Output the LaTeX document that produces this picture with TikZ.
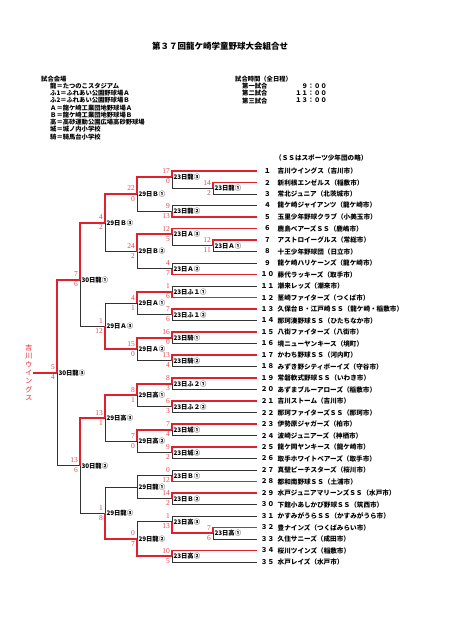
\documentclass[tikz,border=0pt]{standalone}
\usepackage{fontspec}
\setmainfont{Noto Sans CJK JP}
\newfontfamily\scorefont{Liberation Serif}
\usetikzlibrary{calc}
\definecolor{winRed}{RGB}{224,32,44}
\definecolor{scoreRed}{RGB}{226,72,78}
\pgfdeclarelayer{bg}
\pgfsetlayers{bg,main}
\tikzset{
  bline/.style={draw=black!80, line width=0.75pt},
  rline/.style={draw=winRed, line width=1.8pt},
  matchlab/.style={anchor=west, inner sep=0.3pt, xshift=1pt, font=\fontsize{6.3}{7}\selectfont\bfseries},
  score/.style={inner sep=0.4pt, text=scoreRed, font=\scorefont\fontsize{7.5}{8}\selectfont},
  teamnum/.style={inner sep=0pt, font=\fontsize{6.6}{7}\selectfont\bfseries},
  teamname/.style={anchor=west, inner sep=0pt, font=\fontsize{6.6}{7}\selectfont\bfseries},
  info/.style={anchor=west, inner sep=0pt, font=\fontsize{6.3}{7}\selectfont\bfseries},
  champtext/.style={anchor=east, inner sep=0.5pt, align=center, text=winRed, font=\fontsize{7}{8.3}\selectfont}
}
% one game: [vertex fraction] name, column x, upper entry, lower entry, label, scores, winner (t/b/n)
\newcommand{\match}[9][.5]{%
  \coordinate (#2-x) at (#3,0);
  \coordinate (#2-a) at (#4 -| #2-x);
  \coordinate (#2-b) at (#5 -| #2-x);
  \coordinate (#2) at ($(#2-a)!#1!(#2-b)$);
  \begin{pgfonlayer}{bg}
    \draw[bline] (#4) -- (#2-a) -- (#2-b) -- (#5);
  \end{pgfonlayer}
  \ifx t#9\draw[rline] (#4) -- (#2-a) -- (#2);\fi
  \ifx b#9\draw[rline] (#5) -- (#2-b) -- (#2);\fi
  \node[matchlab] (#2-lab) at (#2) {#6};
  \node[score, anchor=south east] (#2-s1) at ($(#2)+(-1.5,-2.5)$) {#7};
  \node[score, anchor=north east] (#2-s2) at ($(#2)+(-1.5,1.5)$) {#8};
}

\begin{document}
\begin{tikzpicture}[x=1pt, y=-1pt]
\begin{pgfonlayer}{bg}
  \fill[white] (0,0) rectangle (452,640);
\end{pgfonlayer}
\useasboundingbox (0,0) rectangle (452,640);

\node[font=\fontsize{8.5}{9}\selectfont\bfseries, inner sep=0pt] (title) at (220,46) {第３７回龍ケ崎学童野球大会組合せ};

% venues and times
\node[info] (venue) at (41,79) {試合会場};
\foreach \txt [count=\k] in {龍＝たつのこスタジアム, ふ1＝ふれあい公園野球場Ａ, ふ2＝ふれあい公園野球場Ｂ,
  Ａ＝龍ケ崎工業団地野球場Ａ, Ｂ＝龍ケ崎工業団地野球場Ｂ, 高＝高砂運動公園広場高砂野球場,
  城＝城ノ内小学校, 騎＝騎馬台小学校}
  \node[info] (venue\k) at (50,{79+\k*7.2}) {\txt};
\node[info] (times) at (235,79) {試合時間（全日程）};
\foreach \txt/\tm [count=\k] in {第一試合/９：００, 第二試合/１１：００, 第三試合/１３：００} {
  \node[info] (game\k) at (242,{79+\k*7.2}) {\txt};
  \node[info, anchor=east] (time\k) at (327,{79+\k*7.2}) {\tm};
}
\node[teamname] (ssnote) at (275,158) {（ＳＳはスポーツ少年団の略）};

% teams
\foreach \num/\name [count=\i] in {
  １/吉川ウイングス（吉川市）, ２/新利根エンゼルス（稲敷市）, ３/常北ジュニア（北茨城市）,
  ４/龍ケ崎ジャイアンツ（龍ケ崎市）, ５/玉里少年野球クラブ（小美玉市）, ６/鹿島ベアーズＳＳ（鹿嶋市）,
  ７/アストロイーグルス（常総市）, ８/十王少年野球団（日立市）, ９/龍ケ崎ハリケーンズ（龍ケ崎市）,
  １０/藤代ラッキーズ（取手市）, １１/潮来レッズ（潮来市）, １２/茎崎ファイターズ（つくば市）,
  １３/久保台Ｂ・江戸崎ＳＳ（龍ケ崎・稲敷市）, １４/那珂湊野球ＳＳ（ひたちなか市）, １５/八街ファイターズ（八街市）,
  １６/境ニューヤンキース（境町）, １７/かわち野球ＳＳ（河内町）, １８/みずき野シティボーイズ（守谷市）,
  １９/常磐軟式野球ＳＳ（いわき市）, ２０/あずまブルーアローズ（稲敷市）, ２１/吉川ストーム（吉川市）,
  ２２/那珂ファイターズＳＳ（那珂市）, ２３/伊勢原ジャガーズ（柏市）, ２４/波崎ジュニアーズ（神栖市）,
  ２５/龍ケ岡ヤンキース（龍ケ崎市）, ２６/取手ホワイトベアーズ（取手市）, ２７/真壁ピーチスターズ（桜川市）,
  ２８/都和南野球ＳＳ（土浦市）, ２９/水戸ジュニアマリーンズＳＳ（水戸市）, ３０/下館小あしかび野球ＳＳ（筑西市）,
  ３１/かすみがうらＳＳ（かすみがうら市）, ３２/豊ナインズ（つくばみらい市）, ３３/久住サニーズ（成田市）,
  ３４/桜川ツインズ（稲敷市）, ３５/水戸レイズ（水戸市）} {
  \coordinate (tm\i) at (257,{171+(\i-1)*11.5});
  \node[teamnum] (num\i) at (267.5,{171+(\i-1)*11.5}) {\num};
  \node[teamname] (name\i) at (277.5,{171+(\i-1)*11.5}) {\name};
}

% 23rd
\match{r1}{213}{tm2}{tm3}{23日龍①}{14}{2}{t}
\match[.3333]{r3}{172}{tm1}{r1}{23日龍③}{17}{0}{t}
\match{r2}{172}{tm4}{tm5}{23日龍②}{9}{13}{b}
\match{a1}{213}{tm7}{tm8}{23日Ａ①}{12}{11}{t}
\match[.3333]{a3}{172}{tm6}{a1}{23日Ａ③}{12}{5}{t}
\match{a2}{172}{tm9}{tm10}{23日Ａ②}{4}{7}{b}
\match{f1}{172}{tm11}{tm12}{23日ふ１①}{1}{6}{b}
\match{f2}{172}{tm13}{tm14}{23日ふ１②}{7}{6}{t}
\match{k1}{172}{tm15}{tm16}{23日騎①}{16}{0}{t}
\match{k2}{172}{tm17}{tm18}{23日騎②}{13}{4}{t}
\match{g1}{172}{tm19}{tm20}{23日ふ２①}{8}{3}{t}
\match{g2}{172}{tm21}{tm22}{23日ふ２②}{6}{3}{t}
\match{j1}{172}{tm23}{tm24}{23日城①}{7}{4}{t}
\match{j2}{172}{tm25}{tm26}{23日城②}{9}{2}{t}
\match{q1}{172}{tm27}{tm28}{23日Ｂ①}{0}{12}{b}
\match{q2}{172}{tm29}{tm30}{23日Ｂ②}{14}{2}{t}
\match{h1}{213}{tm32}{tm33}{23日高①}{7}{6}{t}
\match[.3333]{h3}{172}{tm31}{h1}{23日高③}{1}{13}{b}
\match{h2}{172}{tm34}{tm35}{23日高②}{10}{5}{t}

% 29th
\match{sb1}{137}{r3}{r2}{29日Ｂ①}{22}{0}{t}
\match{sb2}{137}{a3}{a2}{29日Ｂ②}{24}{2}{t}
\match{sa1}{137}{f1}{f2}{29日Ａ①}{4}{1}{t}
\match{sa2}{137}{k1}{k2}{29日Ａ②}{15}{0}{t}
\match{sh1}{137}{g1}{g2}{29日高①}{8}{1}{t}
\match{sh2}{137}{j1}{j2}{29日高②}{7}{0}{t}
\match{sr1}{137}{q1}{q2}{29日龍①}{}{}{n}
\match{sr2}{137}{h3}{h2}{29日龍②}{0}{7}{b}
\match{sb3}{105}{sb1}{sb2}{29日Ｂ③}{4}{2}{t}
\match{sa3}{105}{sa1}{sa2}{29日Ａ③}{1}{12}{b}
\match{sh3}{105}{sh1}{sh2}{29日高③}{13}{1}{t}
\match{sr3}{105}{sr1}{sr2}{29日龍③}{1}{8}{b}

% 30th
\match[.55]{fr1}{80}{sb3}{sa3}{30日龍①}{7}{6}{t}
\match{fr2}{80}{sh3}{sr3}{30日龍②}{13}{6}{t}
\match{fr3}{57}{fr1}{fr2}{30日龍③}{5}{4}{t}

\coordinate (champ-x) at (33,0);
\coordinate (champ) at (fr3 -| champ-x);
\draw[rline] (fr3) -- (champ);
\node[champtext] (champion) at (champ) {吉\\川\\ウ\\イ\\ン\\グ\\ス};
\end{tikzpicture}
\end{document}
